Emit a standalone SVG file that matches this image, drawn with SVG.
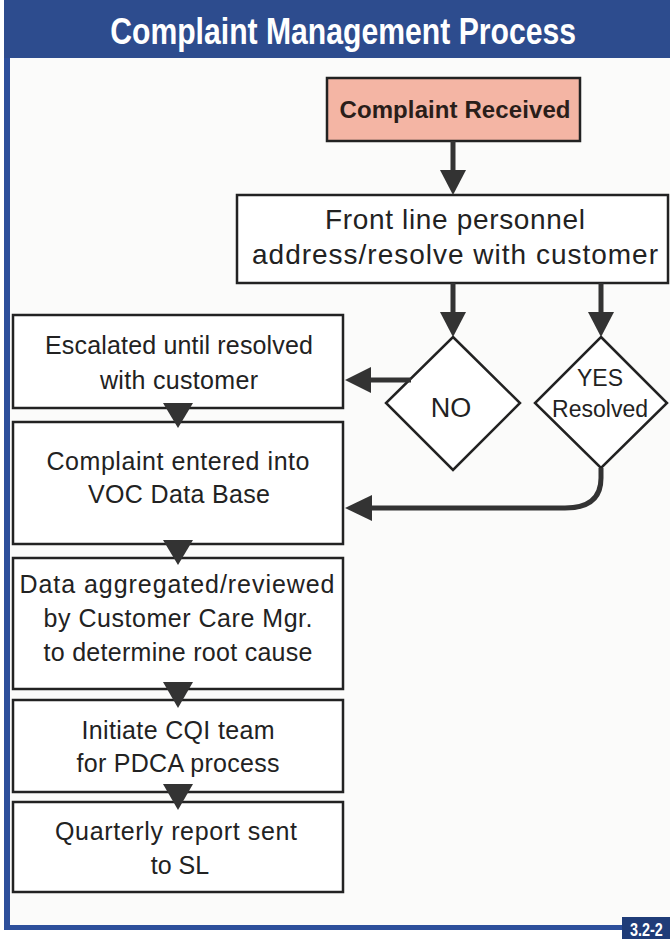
<svg xmlns="http://www.w3.org/2000/svg" width="670" height="939" viewBox="0 0 670 939">
  <style>
    .box { fill: #ffffff; stroke: #222222; stroke-width: 2.5; }
    .dia { fill: #ffffff; stroke: #222222; stroke-width: 2.5; }
    .t { font-family: "Liberation Sans", Arial, sans-serif; font-size: 25px; fill: #222222; text-anchor: middle; }
    .line { fill: none; stroke: #333333; stroke-width: 5; }
    .head { fill: #333333; }
  </style>
  <rect x="0" y="0" width="670" height="939" fill="#ffffff"/>
  <rect x="8" y="58" width="662" height="870" fill="#fbfbfa"/>
  <g id="header">
    <rect x="4" y="0" width="666" height="58" fill="#2d4c8e"/>
    <text transform="scale(0.815,1)" x="421" y="44" font-family="Liberation Sans, Arial, sans-serif" font-weight="bold" font-size="37" fill="#ffffff" text-anchor="middle">Complaint Management Process</text>
  </g>
  <g id="frame">
    <rect x="4" y="58" width="6" height="872" fill="#2d4f9b"/>
    <rect x="4" y="925" width="620" height="5" fill="#2d4f9b"/>
    <rect x="622" y="917" width="48" height="22" fill="#1f3c78"/>
    <text transform="scale(0.8,1)" x="808" y="936" font-family="Liberation Sans, Arial, sans-serif" font-weight="bold" font-size="18" fill="#ffffff" text-anchor="middle">3.2-2</text>
  </g>

  <g id="received">
    <rect x="327" y="78" width="253" height="63" fill="#f4b5a4" stroke="#222222" stroke-width="2.5"/>
    <text x="455" y="118" font-family="Liberation Sans, Arial, sans-serif" font-weight="bold" font-size="24" fill="#2a1e1a" text-anchor="middle" textLength="231">Complaint Received</text>
  </g>
  <g id="frontline">
    <rect class="box" x="237" y="195" width="431" height="88"/>
    <text class="t" x="455" y="229" style="font-size:28px" textLength="260">Front line personnel</text>
    <text class="t" x="455" y="264" style="font-size:28px" textLength="406">address/resolve with customer</text>
  </g>
  <g id="no">
    <polygon class="dia" points="453,337 520,403 453,470 386,403"/>
    <text class="t" x="451" y="417" style="font-size:27px">NO</text>
  </g>
  <g id="yes">
    <polygon class="dia" points="601,337 667,403 601,468 535,403"/>
    <text class="t" x="600" y="386" style="font-size:23px">YES</text>
    <text class="t" x="600" y="417" style="font-size:23px" textLength="96">Resolved</text>
  </g>
  <g id="escalated">
    <rect class="box" x="13" y="315" width="330" height="93"/>
    <text class="t" x="179" y="354" textLength="268">Escalated until resolved</text>
    <text class="t" x="179" y="389" textLength="158">with customer</text>
  </g>
  <g id="entered">
    <rect class="box" x="13" y="422" width="330" height="122"/>
    <text class="t" x="178" y="470" textLength="263">Complaint entered into</text>
    <text class="t" x="179" y="503" textLength="182">VOC Data Base</text>
  </g>
  <g id="data">
    <rect class="box" x="13" y="558" width="330" height="131"/>
    <text class="t" x="177" y="593" textLength="315">Data aggregated/reviewed</text>
    <text class="t" x="178" y="627" textLength="269">by Customer Care Mgr.</text>
    <text class="t" x="178" y="661" textLength="269">to determine root cause</text>
  </g>
  <g id="cqi">
    <rect class="box" x="13" y="700" width="330" height="92"/>
    <text class="t" x="178" y="739" textLength="193">Initiate CQI team</text>
    <text class="t" x="178" y="772" textLength="203">for PDCA process</text>
  </g>
  <g id="quarterly">
    <rect class="box" x="13" y="802" width="330" height="90"/>
    <text class="t" x="176" y="840" textLength="242">Quarterly report sent</text>
    <text class="t" x="180" y="874">to SL</text>
  </g>

  <g id="connectors">
    <line class="line" x1="453" y1="141" x2="453" y2="172"/>
    <polygon class="head" points="440,170 466,170 453,195"/>
    <line class="line" x1="453" y1="283" x2="453" y2="314"/>
    <polygon class="head" points="440,312 466,312 453,337"/>
    <line class="line" x1="601" y1="283" x2="601" y2="314"/>
    <polygon class="head" points="588,312 614,312 601,337"/>
    <line class="line" x1="411" y1="380" x2="368" y2="380"/>
    <polygon class="head" points="371,367 371,393 345,380"/>
    <path class="line" d="M601,468 L601,478 Q601,508 565,508 L370,508"/>
    <polygon class="head" points="372,495 372,521 345,508"/>
    <polygon class="head" points="163,403 193,403 178,428"/>
    <polygon class="head" points="163,540 193,540 178,565"/>
    <polygon class="head" points="163,682 193,682 178,708"/>
    <polygon class="head" points="163,784 193,784 178,810"/>
  </g>
</svg>
